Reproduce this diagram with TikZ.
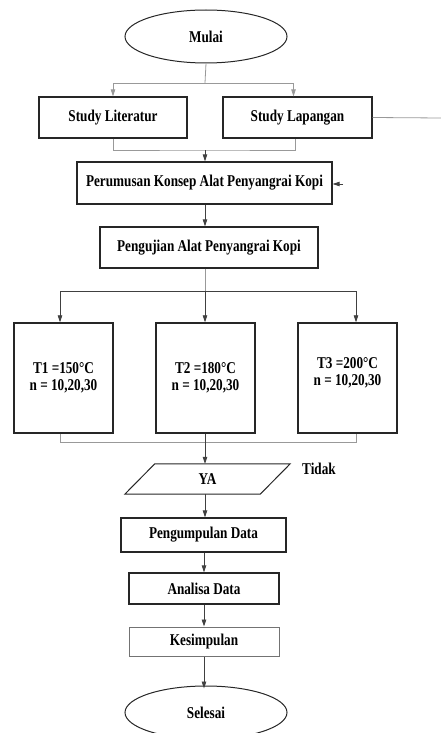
\documentclass[tikz,border=0pt]{standalone}
\usepackage{fontspec}
\setmainfont{Liberation Serif}[FakeStretch=0.8]
\usetikzlibrary{arrows.meta,shapes.geometric}
\begin{document}
\begin{tikzpicture}[x=1pt,y=-1pt,
  every node/.style={font=\fontsize{16.5}{17}\selectfont\bfseries, inner sep=0pt},
  box/.style={draw=black!85, line width=1.2pt, rectangle, align=center},
  term/.style={draw=black!85, line width=1pt, ellipse, minimum width=162pt, minimum height=53pt},
  gline/.style={draw=black!40, line width=0.8pt},
  dline/.style={draw=black!75, line width=0.8pt},
  arr/.style={-{Triangle[length=7pt,width=4.5pt]}}]
\useasboundingbox (0,0) rectangle (441,733);
% nodes
\node[term] (mulai) at (206,36.5) {Mulai};
\node[box, minimum width=148pt, minimum height=41pt] (lit) at (113,117.5) {Study Literatur};
\node[box, minimum width=149pt, minimum height=41pt] (lap) at (297.5,117.5) {Study Lapangan};
\node[box, minimum width=255pt, minimum height=42pt] (rum) at (204.5,183) {Perumusan Konsep Alat Penyangrai Kopi};
\node[box, minimum width=218pt, minimum height=41pt] (uji) at (209,247.5) {Pengujian Alat Penyangrai Kopi};
\node[box, line width=1.4pt, minimum width=99pt, minimum height=110pt] (t1) at (63.5,378) {T1 =150°C\\n = 10,20,30};
\node[box, line width=1.4pt, minimum width=99pt, minimum height=110pt] (t2) at (205.5,378) {T2 =180°C\\n = 10,20,30};
\node[box, line width=1.4pt, minimum width=99pt, minimum height=110pt] (t3) at (347.5,378) {T3 =200°C\\n = 10,20,30\\[-4pt]\mbox{}};
\node[minimum width=165pt, minimum height=30pt] (ya) at (207.5,479) {YA};
\draw[draw=black!85, line width=1pt] (ya.south west) -- ([xshift=30pt]ya.north west) -- (ya.north east) -- ([xshift=-30pt]ya.south east) -- cycle;
\node (tidak) at (319,469) {Tidak};
\node[box, minimum width=165pt, minimum height=34pt] (kumpul) at (203.5,535) {Pengumpulan Data};
\node[box, minimum width=150pt, minimum height=31pt] (analisa) at (204,588.5) {Analisa Data};
\node[box, draw=black!55, line width=1pt, minimum width=150pt, minimum height=29pt] (simpul) at (204,641.5) {Kesimpulan};
\node[term] (selesai) at (206,712.5) {Selesai};
% coordinates
\coordinate (s1) at (205,83);
\coordinate (m1) at (205,150);
\coordinate (s2) at (205,291);
\coordinate (a1) at (60,291);
\coordinate (a3) at (356,291);
\coordinate (b1) at (60,442);
\coordinate (b3) at (356,442);
\coordinate (out) at (441,118);
\coordinate (rin) at (343,184);
% connectors
\draw[gline] (mulai.south) -- (s1);
\draw[gline, arr] (s1) -| (lit.north);
\draw[gline, arr] (s1) -| ([xshift=-4pt]lap.north);
\draw[gline] (lit.south) |- (m1) -| ([xshift=-2pt]lap.south);
\draw[dline, arr] (m1) -- (m1 |- rum.north);
\draw[gline] (lap.east) -- (out);
\draw[dline, arr] (rin) -- (rum.east |- rin);
\draw[dline, arr] (rum.south -| m1) -- (m1 |- uji.north);
\draw[gline] (uji.south -| s2) -- (s2);
\draw[dline, arr] (s2) -- (a1) -- (a1 |- t1.north);
\draw[dline, arr] (s2) -- (s2 |- t2.north);
\draw[dline, arr] (s2) -- (a3) -- (a3 |- t3.north);
\draw[gline] (a1 |- t1.south) -- (b1) -- (b3) -- (a3 |- t3.south);
\draw[dline, arr] (s2 |- t2.south) -- (s2 |- ya.north);
\draw[dline, arr] (s2 |- ya.south) -- (s2 |- kumpul.north);
\draw[dline, arr] (analisa.north |- kumpul.south) -- (analisa.north);
\draw[dline, arr] (analisa.south) -- (simpul.north);
\draw[dline, arr] (simpul.south) -- ([yshift=-3pt]simpul.south |- selesai.north);
\end{tikzpicture}
\end{document}
